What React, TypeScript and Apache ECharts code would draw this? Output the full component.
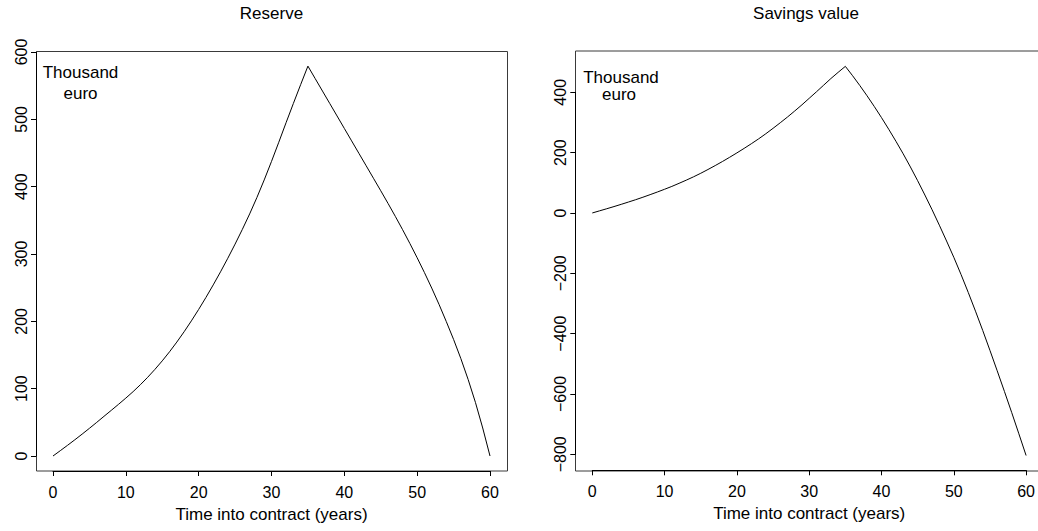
import React, { useEffect, useRef } from "react";
import * as echarts from "echarts";

const years = [
  0, 1, 2, 3, 4, 5, 6, 7, 8, 9, 10, 11, 12, 13, 14, 15, 16, 17, 18, 19, 20,
  21, 22, 23, 24, 25, 26, 27, 28, 29, 30, 31, 32, 33, 34, 35, 36, 37, 38, 39, 40,
  41, 42, 43, 44, 45, 46, 47, 48, 49, 50, 51, 52, 53, 54, 55, 56, 57, 58, 59, 60,
];

const reserve = [
  0, 7.9, 15.9, 24.1, 32.5, 41.1, 49.9, 58.9, 67.8, 76.8, 86.0, 95.6, 105.9,
  116.9, 128.7, 141.3, 154.8, 169.2, 184.5, 200.7, 217.7, 235.5, 254.1, 273.5,
  293.7, 314.7, 336.6, 359.5, 384, 410, 437.5, 466, 495, 523.5, 551.5, 579,
  560.5, 542, 523.5, 505, 486.5, 468, 449.5, 431, 412.5, 393.9, 375.1, 355.9,
  336.1, 315.6, 294.4, 272.4, 249.4, 225.2, 199.6, 173.1, 144.6, 113.6, 79.6,
  41.6, 0,
];

const savings = [
  0, 7, 14, 21.2, 28.6, 36.2, 44, 52.2, 60.7, 69.5, 78.6, 88, 98.3, 108.8,
  119.8, 131.6, 144.1, 157.1, 170.6, 184.6, 199.1, 214.1, 229.6, 245.6, 262.6,
  280.6, 299.1, 318.1, 338.1, 358.6, 380.1, 401.6, 423.6, 445.6, 466.1, 486,
  455, 422.5, 388.5, 353, 316, 277.5, 237.5, 196, 152.5, 107, 59.5, 10.5,
  -40.5, -93, -147, -204, -263.5, -325.5, -389.5, -455.5, -523, -591.5, -661,
  -732, -804,
];

const titles = ["Reserve", "Savings value"];
const xAxisTitle = "Time into contract (years)";
const unitLines = ["Thousand", "euro"];

const FONT = "'Liberation Sans', Arial, Helvetica, sans-serif";
const INK = "#000";
const BOX = "#3a3a3a";

export default function App() {
  const ref = useRef<HTMLDivElement>(null);

  useEffect(() => {
    document.body.style.margin = "0";
    if (!ref.current) return;
    const chart = echarts.init(ref.current, null, { renderer: "svg" });

    const axisCommon = {
      type: "value" as const,
      splitLine: { show: false },
      axisLine: { show: true, onZero: false, lineStyle: { color: INK, width: 1 } },
      axisTick: { show: true, length: 5, lineStyle: { color: INK, width: 1 } },
    };
    const xLabel = { color: INK, fontFamily: FONT, fontSize: 16, margin: 13 };
    const yLabel = {
      color: INK,
      fontFamily: FONT,
      fontSize: 16,
      rotate: 90,
      margin: 7,
      formatter: (v: number) => String(v).replace("-", "\u2212"),
    };
    const nameStyle = { color: INK, fontFamily: FONT, fontSize: 17 };

    const text = (t: string, x: number, y: number, size: number) => ({
      type: "text",
      x,
      y,
      silent: true,
      style: {
        text: t,
        fill: INK,
        fontFamily: FONT,
        fontSize: size,
        align: "center",
        verticalAlign: "middle",
      },
    });

    chart.setOption({
      animation: false,
      backgroundColor: "#fff",
      grid: [
        { left: 53, top: 52, width: 437, height: 404 },
        { left: 592.3, top: 92.3, width: 437.7, height: 362 },
      ],
      xAxis: [
        {
          ...axisCommon,
          gridIndex: 0,
          min: 0,
          max: 60,
          interval: 10,
          position: "bottom",
          offset: 15,
          axisLabel: xLabel,
          name: xAxisTitle,
          nameLocation: "middle",
          nameGap: 35,
          nameTextStyle: nameStyle,
        },
        {
          ...axisCommon,
          gridIndex: 1,
          min: 0,
          max: 60,
          interval: 10,
          position: "bottom",
          offset: 16,
          axisLabel: xLabel,
          name: xAxisTitle,
          nameLocation: "middle",
          nameGap: 35,
          nameTextStyle: nameStyle,
        },
      ],
      yAxis: [
        {
          ...axisCommon,
          gridIndex: 0,
          min: 0,
          max: 600,
          interval: 100,
          position: "left",
          offset: 17,
          axisLabel: yLabel,
        },
        {
          ...axisCommon,
          gridIndex: 1,
          min: -800,
          max: 400,
          interval: 200,
          position: "left",
          offset: 17,
          axisLabel: yLabel,
        },
      ],
      series: [
        {
          type: "line",
          xAxisIndex: 0,
          yAxisIndex: 0,
          data: years.map((t, i) => [t, reserve[i]]),
          showSymbol: false,
          clip: false,
          lineStyle: { color: INK, width: 1 },
          silent: true,
        },
        {
          type: "line",
          xAxisIndex: 1,
          yAxisIndex: 1,
          data: years.map((t, i) => [t, savings[i]]),
          showSymbol: false,
          clip: false,
          lineStyle: { color: INK, width: 1 },
          silent: true,
        },
      ],
      graphic: [
        {
          type: "rect",
          silent: true,
          shape: { x: 36.5, y: 51.5, width: 471, height: 419.5 },
          style: { fill: "none", stroke: BOX, lineWidth: 1 },
        },
        {
          type: "rect",
          silent: true,
          shape: { x: 575.5, y: 51, width: 480, height: 420 },
          style: { fill: "none", stroke: BOX, lineWidth: 1 },
        },
        text(titles[0], 271.5, 13, 17),
        text(titles[1], 806, 13, 17),
        text(unitLines[0], 80.5, 72, 17),
        text(unitLines[1], 80.5, 93, 17),
        text(unitLines[0], 621, 77, 17),
        text(unitLines[1], 619, 94, 17),
      ],
    });

    return () => chart.dispose();
  }, []);

  return (
    <div
      ref={ref}
      style={{ position: "absolute", left: 0, top: 0, width: 1038, height: 531 }}
    />
  );
}
